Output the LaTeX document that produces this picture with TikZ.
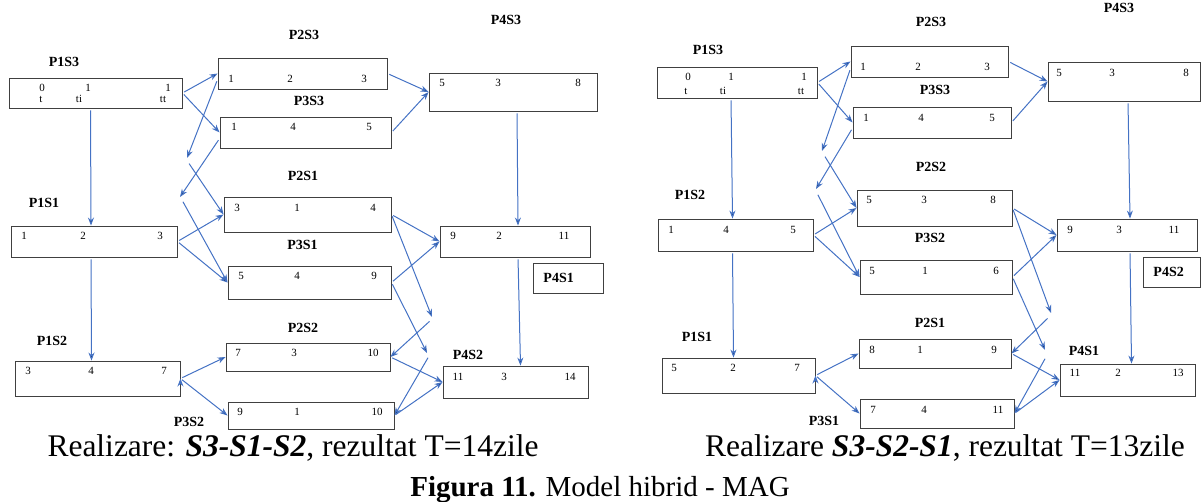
\documentclass[tikz,border=0pt]{standalone}
\usepackage{fontspec}
\setmainfont{Liberation Serif}
\usepackage{tikz}
\usetikzlibrary{arrows.meta}
\definecolor{linkblue}{RGB}{68,114,196}

\begin{document}
\begin{tikzpicture}[->,>={Stealth[length=8pt,width=6pt]},x=1pt,y=-1pt,
  link/.style={draw=linkblue,line width=1pt,shorten <=2pt},
  box/.style={draw=black!75,line width=0.9pt,inner sep=0pt},
  tag/.style={font=\fontsize{14}{16}\selectfont\bfseries},
  num/.style={font=\fontsize{11}{12}\selectfont,inner sep=0pt},
  captext/.style={font=\fontsize{31.5}{34}\selectfont,anchor=base}]
    \useasboundingbox (0,0) rectangle (1201,501);

    % left: S3-S1-S2
    \node[box,minimum width=173,minimum height=30](L13) at (95.5,93){};
    \node[box,minimum width=169,minimum height=31](L23) at (302.5,73.5){};
    \node[box,minimum width=171,minimum height=31](L33) at (305.5,132.5){};
    \node[box,minimum width=168,minimum height=38](L43) at (513,92){};
    \node[box,minimum width=166,minimum height=31](L11) at (94,241.5){};
    \node[box,minimum width=167,minimum height=35](L21) at (307.5,214.5){};
    \node[box,minimum width=163,minimum height=33](L31) at (309.5,282.5){};
    \node[box,minimum width=150,minimum height=31](L41) at (515,241.5){};
    \node[box,minimum width=165,minimum height=35](L12) at (97.5,378.5){};
    \node[box,minimum width=164,minimum height=28](L22) at (308,357){};
    \node[box,minimum width=166,minimum height=27](L32) at (311,415.5){};
    \node[box,minimum width=145,minimum height=32](L42) at (515.5,382){};
    \node[box,tag,text width=50,inner xsep=10,minimum height=30,anchor=west](L41t) at (533,278){P4S1};

    \node[tag](L13l) at (64,62){P1S3};
    \node[tag](L23l) at (304,35){P2S3};
    \node[tag](L33l) at (309,101){P3S3};
    \node[tag](L43l) at (506,20){P4S3};
    \node[tag](L11l) at (44,203){P1S1};
    \node[tag](L21l) at (303,176){P2S1};
    \node[tag](L31l) at (302.5,245){P3S1};
    \node[tag](L12l) at (52,341){P1S2};
    \node[tag](L22l) at (303,328){P2S2};
    \node[tag](L32l) at (189,422){P3S2};
    \node[tag](L42l) at (468,355){P4S2};

    \node[num](L13a) at (42,88){0}; \node[num](L13b) at (88,88){1}; \node[num](L13c) at (168,88){1};
    \node[num](L13d) at (41,99){t}; \node[num](L13e) at (79,99){ti}; \node[num](L13f) at (163,99){tt};
    \node[num](L23a) at (231,79){1}; \node[num](L23b) at (290,79){2}; \node[num](L23c) at (364,79){3};
    \node[num](L33a) at (234,127){1}; \node[num](L33b) at (293,127){4}; \node[num](L33c) at (369,127){5};
    \node[num](L43a) at (442,83){5}; \node[num](L43b) at (498,83){3}; \node[num](L43c) at (578,83){8};
    \node[num](L11a) at (24,236){1}; \node[num](L11b) at (83,236){2}; \node[num](L11c) at (160,236){3};
    \node[num](L21a) at (237,208){3}; \node[num](L21b) at (297,208){1}; \node[num](L21c) at (373,208){4};
    \node[num](L31a) at (241,276){5}; \node[num](L31b) at (297,276){4}; \node[num](L31c) at (374,276){9};
    \node[num](L41a) at (453,236){9}; \node[num](L41b) at (499,236){2}; \node[num](L41c) at (564,236){11};
    \node[num](L12a) at (28,371){3}; \node[num](L12b) at (91,371){4}; \node[num](L12c) at (164,371){7};
    \node[num](L22a) at (238,353){7}; \node[num](L22b) at (294,353){3}; \node[num](L22c) at (373,353){10};
    \node[num](L32a) at (240,412){9}; \node[num](L32b) at (297,412){1}; \node[num](L32c) at (377,412){10};
    \node[num](L42a) at (458,377){11}; \node[num](L42b) at (504,377){3}; \node[num](L42c) at (570,377){14};

    \coordinate (cL1) at (187,158);
    \coordinate (cL2) at (180,197);
    \coordinate (cL3) at (188,162);
    \coordinate (cL4) at (182,200);
    \coordinate (cL5) at (432,317);
    \coordinate (cL6) at (427,353);
    \coordinate (cL7) at (431,320);
    \coordinate (cL8) at (429,356);

    \path[link] (L13.east) edge (L23.west)
          (L13.east) edge (L33.west)
          (L23.184) edge (cL1)
          (L33.184) edge (cL2)
          (cL3) edge (L21.west)
          (cL4) edge (L31.west)
          (L11.east) edge (L21.west)
          (L11.east) edge (L31.west)
          (L23.east) edge (L43.west)
          (L33.east) edge (L43.west)
          ([xshift=-5]L13.south) edge ([xshift=-3]L11.north)
          ([xshift=-3]L11.south) edge ([xshift=-6]L12.north)
          ([xshift=4]L43.south) edge ([xshift=3]L41.north)
          ([xshift=3]L41.south) edge ([xshift=5]L42.north)
          (L21.east) edge (L41.west)
          (L31.east) edge (L41.west)
          (L21.east) edge (cL5)
          (L31.east) edge (cL6)
          (cL7) edge (L22.east)
          (cL8) edge (L32.east)
          (L22.east) edge (L42.west)
          (L32.east) edge (L42.west)
          (L12.east) edge (L22.west)
          (L12.east) edge (L32.west)
    ;

    % right: S3-S2-S1
    \node[box,minimum width=160,minimum height=31](R13) at (737,82.5){};
    \node[box,minimum width=157,minimum height=31](R23) at (929.5,61.5){};
    \node[box,minimum width=158,minimum height=31](R33) at (932,122.5){};
    \node[box,minimum width=152,minimum height=39](R43) at (1124,81.5){};
    \node[box,minimum width=155,minimum height=32](R12) at (735.5,235){};
    \node[box,minimum width=155,minimum height=36](R22) at (934.5,208){};
    \node[box,minimum width=152,minimum height=34](R32) at (936,277){};
    \node[box,minimum width=140,minimum height=32](R42) at (1127,235){};
    \node[box,minimum width=153,minimum height=35](R11) at (738.5,375.5){};
    \node[box,minimum width=152,minimum height=29](R21) at (935,353.5){};
    \node[box,minimum width=154,minimum height=29](R31) at (937,413.5){};
    \node[box,minimum width=135,minimum height=32](R41) at (1127.5,380){};
    \node[box,tag,text width=37,inner xsep=10,minimum height=30,anchor=west](R42t) at (1143,272){P4S2};

    \node[tag](R13l) at (708,50){P1S3};
    \node[tag](R23l) at (931,22){P2S3};
    \node[tag](R33l) at (935,90){P3S3};
    \node[tag](R43l) at (1119,8){P4S3};
    \node[tag](R12l) at (690,195){P1S2};
    \node[tag](R22l) at (931,167){P2S2};
    \node[tag](R32l) at (930,238){P3S2};
    \node[tag](R11l) at (697,337){P1S1};
    \node[tag](R21l) at (930,323){P2S1};
    \node[tag](R31l) at (824,421){P3S1};
    \node[tag](R41l) at (1084,351){P4S1};

    \node[num](R13a) at (688,77){0}; \node[num](R13b) at (731,77){1}; \node[num](R13c) at (804,77){1};
    \node[num](R13d) at (686,91){t}; \node[num](R13e) at (723,91){ti}; \node[num](R13f) at (801,91){tt};
    \node[num](R23a) at (863,67){1}; \node[num](R23b) at (918,67){2}; \node[num](R23c) at (987,67){3};
    \node[num](R33a) at (866,118){1}; \node[num](R33b) at (921,118){4}; \node[num](R33c) at (992,118){5};
    \node[num](R43a) at (1059,73){5}; \node[num](R43b) at (1112,73){3}; \node[num](R43c) at (1186,73){8};
    \node[num](R12a) at (671,230){1}; \node[num](R12b) at (726,230){4}; \node[num](R12c) at (793,230){5};
    \node[num](R22a) at (869,200){5}; \node[num](R22b) at (924,200){3}; \node[num](R22c) at (993,200){8};
    \node[num](R32a) at (872,271){5}; \node[num](R32b) at (925,271){1}; \node[num](R32c) at (996,271){6};
    \node[num](R42a) at (1070,230){9}; \node[num](R42b) at (1119,230){3}; \node[num](R42c) at (1174,230){11};
    \node[num](R11a) at (674,368){5}; \node[num](R11b) at (733,368){2}; \node[num](R11c) at (797,368){7};
    \node[num](R21a) at (872,350){8}; \node[num](R21b) at (920,350){1}; \node[num](R21c) at (994,350){9};
    \node[num](R31a) at (873,410){7}; \node[num](R31b) at (924,410){4}; \node[num](R31c) at (998,410){11};
    \node[num](R41a) at (1075,373){11}; \node[num](R41b) at (1118,373){2}; \node[num](R41c) at (1178,373){13};

    \coordinate (cR1) at (822,151);
    \coordinate (cR2) at (816,189);
    \coordinate (cR3) at (824,155);
    \coordinate (cR4) at (817,193);
    \coordinate (cR5) at (1051,313);
    \coordinate (cR6) at (1045,350);
    \coordinate (cR7) at (1049,317);
    \coordinate (cR8) at (1046,357);

    \path[link] (R13.east) edge (R23.west)
          (R13.east) edge (R33.west)
          (R23.185) edge (cR1)
          (R33.184) edge (cR2)
          (cR3) edge (R22.west)
          (cR4) edge (R32.west)
          (R12.east) edge (R22.west)
          (R12.east) edge (R32.west)
          (R23.east) edge (R43.west)
          (R33.east) edge (R43.west)
          ([xshift=-6]R13.south) edge ([xshift=-3]R12.north)
          ([xshift=-3]R12.south) edge ([xshift=-5]R11.north)
          ([xshift=4]R43.south) edge ([xshift=3]R42.north)
          ([xshift=3]R42.south) edge ([xshift=4]R41.north)
          (R22.east) edge (R42.west)
          (R32.east) edge (R42.west)
          (R22.east) edge (cR5)
          (R32.east) edge (cR6)
          (cR7) edge (R21.east)
          (cR8) edge (R31.east)
          (R21.east) edge (R41.west)
          (R31.east) edge (R41.west)
          (R11.east) edge (R21.west)
          (R11.east) edge (R31.west)
    ;

    \node[captext](capL) at (293,456){Realizare: \textbf{\textit{S3-S1-S2}}, rezultat T=14zile};
    \node[captext](capR) at (945,456){Realizare \textbf{\textit{S3-S2-S1}}, rezultat T=13zile};
    \node[captext,font=\fontsize{29}{33}\selectfont](capF) at (600,496){\textbf{Figura 11.} Model hibrid - MAG};

\end{tikzpicture}
\end{document}
